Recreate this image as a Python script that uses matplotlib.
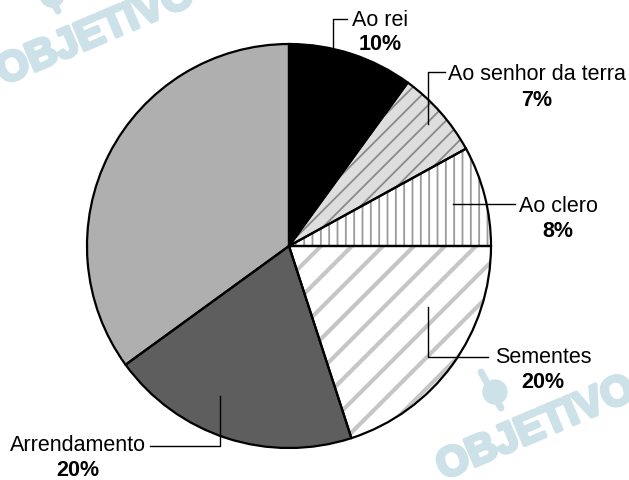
import matplotlib
matplotlib.use("Agg")
import matplotlib.pyplot as plt
import matplotlib.patheffects as pe
from matplotlib.patches import Circle
import numpy as np

# data
labels = ["Ao rei", "Ao senhor da terra", "Ao clero", "Sementes", "Arrendamento", ""]
shares = [10, 7, 8, 20, 20, 35]
pct_labels = ["10%", "7%", "8%", "20%", "20%", ""]

fills = ["#000000", "#dedede", "#ffffff", "#ffffff", "#5e5e5e", "#afafaf"]
hatches = [None, "//", "||", None, None, None]
hatch_cols = ["none", "#8a8a8a", "#9a9a9a", "none", "none", "none"]

plt.rcParams["font.family"] = ["Liberation Sans", "DejaVu Sans"]

W, H = 629, 481
fig = plt.figure(figsize=(W / 100, H / 100), dpi=100)
ax = fig.add_axes([0, 0, 1, 1])

def Y(y):
    # pixel row -> data y
    return H - y

# watermark
wm = "#cde1e9"
for (x, y) in [(3, 86), (443, 481)]:
    ax.text(x, Y(y), "OBJETIVO", rotation=23, color=wm, fontsize=30,
            fontweight="bold", ha="left", va="baseline", zorder=0,
            rotation_mode="anchor",
            path_effects=[pe.withStroke(linewidth=2.5, foreground=wm)])
for (x, y) in [(52, -4), (495, 393)]:
    ax.add_patch(Circle((x, Y(y)), 12, color=wm, zorder=0))
    ax.plot([x - 14, x + 6], [Y(y - 20), Y(y + 16)], color=wm, lw=5,
            solid_capstyle="round", zorder=0)

cx, cy, r = 289, Y(247), 202

# fill + hatch layer
wedges, _ = ax.pie(shares, startangle=90, counterclock=False, center=(cx, cy),
                   radius=r, frame=True,
                   wedgeprops=dict(linewidth=0))
for w, fc, hc, ht in zip(wedges, fills, hatch_cols, hatches):
    w.set_facecolor(fc)
    w.set_zorder(2)
    if ht:
        w.set_hatch(ht)
        w.set_edgecolor(hc)
        if hasattr(w, "set_hatch_linewidth"):
            w.set_hatch_linewidth(1.3)

# dotted diagonal stripes in "Sementes"
for c in np.arange(cy - cx - 2 * r, cy - cx + 2 * r, 31):
    xs = np.array([cx - r, cx + r])
    ln, = ax.plot(xs, xs + c, color="#c6c6c6", lw=3.0, zorder=2.5)
    ln.set_clip_path(wedges[3])

# outline layer
outl, _ = ax.pie(shares, startangle=90, counterclock=False, center=(cx, cy),
                 radius=r, frame=True,
                 wedgeprops=dict(facecolor="none", edgecolor="black", linewidth=1.6))
for w in outl:
    w.set_zorder(3)

# leader lines (pixel coords) and labels
leaders = [
    [(347, 20), (333, 20), (333, 52)],
    [(445, 73), (428, 73), (428, 125)],
    [(515, 205), (453, 205)],
    [(488, 358), (428, 358), (428, 308)],
    [(150, 447), (220, 447), (220, 397)],
]
txt_pos = [(380, 20), (537, 75), (558, 207), (543, 358), (78, 446)]
for i, pts in enumerate(leaders):
    xs = [p[0] for p in pts]
    ys = [Y(p[1]) for p in pts]
    ax.plot(xs, ys, color="black", lw=1.0, zorder=4)
    tx, ty = txt_pos[i]
    ax.text(tx, Y(ty), labels[i], ha="center", va="center", fontsize=15.5, zorder=5)
    ax.text(tx, Y(ty + 25), pct_labels[i], ha="center", va="center", fontsize=15.5,
            fontweight="bold", zorder=5)

ax.set_xlim(0, W)
ax.set_ylim(0, H)
ax.axis("off")
fig.savefig("out.png", dpi=100)
